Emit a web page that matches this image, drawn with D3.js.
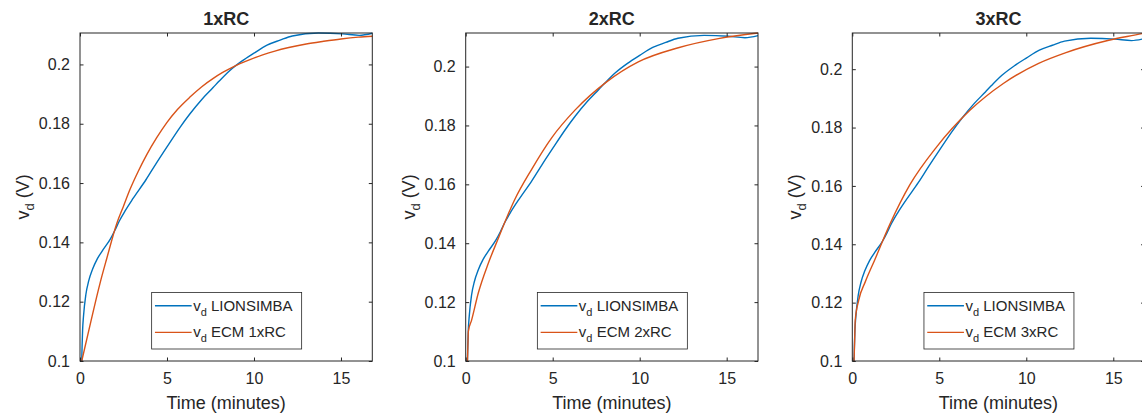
<!DOCTYPE html>
<html>
<head>
<meta charset="utf-8">
<script src="https://cdn.jsdelivr.net/npm/d3@7"></script>
<style>
    body { margin: 0; background: #fff; }
    svg { display: block; font-family: "Liberation Sans", Arial, sans-serif; }
    .frame { fill: none; stroke: #262626; stroke-width: 1; }
    .tick-mark { stroke: #262626; stroke-width: 1; }
    .lbl { fill: #262626; }
</style>
</head>
<body>
<script>
// data: time in minutes, voltage in V
const lionT = [0.1, 0.12, 0.15, 0.2, 0.34, 0.5, 0.72, 1.0, 1.3, 1.75, 2.0, 2.26, 2.6, 3.05, 3.8, 4.4, 5.0, 5.75, 6.3, 7.0, 7.65, 8.0, 8.6, 9.3, 10.0, 10.75, 11.5, 12.2, 13.7, 15.1, 16.05, 16.8];
const lionV = [0.100, 0.105, 0.1105, 0.115, 0.1225, 0.127, 0.1309, 0.1345, 0.1373, 0.1412, 0.1440, 0.1472, 0.1507, 0.1548, 0.1612, 0.1668, 0.1722, 0.1788, 0.1832, 0.1882, 0.1922, 0.1944, 0.1979, 0.2011, 0.2038, 0.2065, 0.2082, 0.2096, 0.2106, 0.2103, 0.2098, 0.2105];

const ecm1T = [0.1, 0.6, 1.15, 1.53, 2.11, 2.5, 2.87, 3.35, 3.83, 4.4, 4.98, 5.6, 6.32, 7.0, 7.66, 8.2, 8.81, 9.77, 10.5, 11.2, 12.0, 13.0, 14.0, 15.0, 16.0, 16.8];
const ecm1V = [0.100, 0.1127, 0.1262, 0.1344, 0.1463, 0.1522, 0.1578, 0.1640, 0.1695, 0.1752, 0.1803, 0.1848, 0.1890, 0.1925, 0.1953, 0.1973, 0.1992, 0.2016, 0.2032, 0.2045, 0.2057, 0.2069, 0.2078, 0.2086, 0.2092, 0.2095];

const ecm2T = [0.1, 0.13, 0.15, 0.34, 0.72, 1.3, 1.87, 2.26, 2.8, 3.8, 4.94, 6.28, 8.1, 9.92, 12.22, 14.52, 16.8];
const ecm2V = [0.100, 0.106, 0.110, 0.1139, 0.123, 0.1332, 0.1416, 0.1473, 0.1546, 0.1652, 0.1758, 0.1852, 0.1948, 0.2016, 0.2064, 0.2095, 0.2114];

const ecm3T = [0.1, 0.13, 0.17, 0.37, 0.75, 1.3, 2.17, 3.32, 4.85, 6.76, 8.68, 10.71, 12.24, 14.74, 16.65, 16.8];
const ecm3V = [0.100, 0.106, 0.114, 0.1209, 0.1272, 0.1348, 0.1470, 0.1605, 0.1734, 0.1859, 0.1951, 0.202, 0.2056, 0.2099, 0.2122, 0.2124];

const panelNames = ['1xRC', '2xRC', '3xRC'];
const ecmT = [ecm1T, ecm2T, ecm3T];
const ecmV = [ecm1V, ecm2V, ecm3V];
const xTicks = [0, 5, 10, 15];
const yTicks = [0.1, 0.12, 0.14, 0.16, 0.18, 0.2];
const xMax = 16.8;

const W = 1142, H = 416;
const plotLefts = [80, 465.7, 852.3];
const plotW = 292.3, plotTop = 33, plotBottom = 361;
const blue = '#0072BD', orange = '#D95319';

function zip(ts, vs) {
    return ts.map((t, i) => [t, vs[i]]);
}

function draw() {
    const svg = d3.select('body').append('svg')
        .attr('width', W).attr('height', H)
        .attr('viewBox', `0 0 ${W} ${H}`);

    panelNames.forEach((name, p) => {
        const lion = zip(lionT, lionV);
        const ecm = zip(ecmT[p], ecmV[p]);
        const yMax = d3.max(lion.concat(ecm), d => d[1]);

        const x = d3.scaleLinear().domain([0, xMax]).range([0, plotW]);
        const y = d3.scaleLinear().domain([0.1, yMax]).range([plotBottom - plotTop, 0]);
        const h = plotBottom - plotTop;

        const g = svg.append('g').attr('transform', `translate(${plotLefts[p]},${plotTop})`);

        // curves
        const line = d3.line().x(d => x(d[0])).y(d => y(d[1])).curve(d3.curveMonotoneX);
        g.append('path').datum(lion).attr('d', line)
            .attr('fill', 'none').attr('stroke', blue).attr('stroke-width', 1.4);
        g.append('path').datum(ecm).attr('d', line)
            .attr('fill', 'none').attr('stroke', orange).attr('stroke-width', 1.4);

        // axes (ticks inward, box on)
        const ax = (axis, tr) => g.append('g').attr('transform', tr).call(axis)
            .call(s => s.select('.domain').remove())
            .call(s => s.selectAll('.tick line').attr('class', 'tick-mark'));
        ax(d3.axisBottom(x).tickValues(xTicks).tickSizeInner(-3.5).tickPadding(12).tickFormat(d3.format('d')), `translate(0,${h})`);
        ax(d3.axisTop(x).tickValues(xTicks).tickSizeInner(-3.5).tickFormat(''), 'translate(0,0)');
        ax(d3.axisLeft(y).tickValues(yTicks).tickSizeInner(-3.5).tickPadding(10).tickFormat(d => d3.format('')(+d.toFixed(2))), 'translate(0,0)');
        ax(d3.axisRight(y).tickValues(yTicks).tickSizeInner(-3.5).tickFormat(''), `translate(${plotW},0)`);
        svg.selectAll('.tick text').attr('class', 'lbl').attr('font-size', 16)
            .attr('font-family', '"Liberation Sans", Arial, sans-serif').attr('fill', '#262626');

        g.append('rect').attr('class', 'frame')
            .attr('x', 0).attr('y', 0).attr('width', plotW).attr('height', h);

        // title
        g.append('text').attr('class', 'lbl')
            .attr('x', plotW / 2).attr('y', -8)
            .attr('text-anchor', 'middle').attr('font-size', 18).attr('font-weight', 'bold')
            .attr('fill', '#000').text(name);

        // x label
        g.append('text').attr('class', 'lbl')
            .attr('x', plotW / 2).attr('y', h + 48)
            .attr('text-anchor', 'middle').attr('font-size', 18)
            .text('Time (minutes)');

        // y label
        const yl = g.append('text').attr('class', 'lbl')
            .attr('transform', `translate(-51,${h / 2}) rotate(-90)`)
            .attr('text-anchor', 'middle').attr('font-size', 18);
        yl.append('tspan').text('v');
        yl.append('tspan').attr('font-size', 13).attr('dy', 5).text('d');
        yl.append('tspan').attr('dy', -5).text(' (V)');

        // legend
        const lgW = 150, lgH = 56.6;
        const lg = g.append('g').attr('transform', `translate(${plotW / 2 - lgW / 2 + 0.5},${h - 12 - lgH})`);
        lg.append('rect').attr('width', lgW).attr('height', lgH)
            .attr('fill', '#fff').attr('stroke', '#262626').attr('stroke-width', 0.8);
        const entries = [['LIONSIMBA', blue], ['ECM ' + name, orange]];
        entries.forEach(([label, c], i) => {
            const ry = 13.3 + i * 26.7;
            lg.append('line').attr('x1', 3.3).attr('x2', 40).attr('y1', ry).attr('y2', ry)
                .attr('stroke', c).attr('stroke-width', 1.4);
            const t = lg.append('text').attr('class', 'lbl')
                .attr('x', 41.5).attr('y', ry + 5).attr('font-size', 15);
            t.append('tspan').text('v');
            t.append('tspan').attr('font-size', 11).attr('dy', 5).text('d');
            t.append('tspan').attr('dy', -5).text(' ' + label);
        });
    });
}

draw();
</script>
</body>
</html>
